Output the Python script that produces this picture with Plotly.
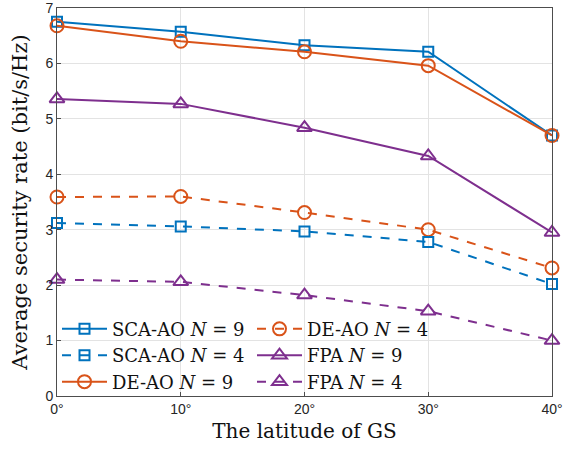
import plotly.graph_objects as go

lat = [0, 10, 20, 30, 40]
lat_labels = ["0°", "10°", "20°", "30°", "40°"]
sca9 = [6.75, 6.57, 6.33, 6.21, 4.70]
de9 = [6.68, 6.40, 6.21, 5.96, 4.70]
fpa9 = [5.36, 5.27, 4.84, 4.33, 2.95]
de4 = [3.59, 3.60, 3.31, 3.00, 2.31]
sca4 = [3.12, 3.06, 2.97, 2.78, 2.02]
fpa4 = [2.10, 2.06, 1.82, 1.53, 1.00]
y_ticks = [0, 1, 2, 3, 4, 5, 6, 7]

BLUE, ORANGE, PURPLE = "#0072BD", "#D95319", "#7E2F8E"
SERIF = "DejaVu Serif, Liberation Serif, serif"

series = [
    ("SCA-AO <i>N</i> = 9", sca9, BLUE, "square-open", "solid"),
    ("DE-AO <i>N</i> = 4", de4, ORANGE, "circle-open", "dash"),
    ("SCA-AO <i>N</i> = 4", sca4, BLUE, "square-open", "dash"),
    ("FPA <i>N</i> = 9", fpa9, PURPLE, "triangle-up-open", "solid"),
    ("DE-AO <i>N</i> = 9", de9, ORANGE, "circle-open", "solid"),
    ("FPA <i>N</i> = 4", fpa4, PURPLE, "triangle-up-open", "dash"),
]

fig = go.Figure()
for name, ys, col, sym, dash in series:
    size = 10 if "square" in sym else 13
    fig.add_trace(go.Scatter(
        x=lat, y=ys, name=name, mode="lines+markers", cliponaxis=False,
        line=dict(color=col, width=2, dash=dash),
        marker=dict(symbol=sym, size=size, color=col, line=dict(width=2, color=col)),
    ))

axis_common = dict(
    showgrid=True, gridcolor="#e3e3e3", gridwidth=1,
    showline=True, linecolor="#4d4d4d", linewidth=1, mirror=True,
    ticks="inside", ticklen=4, tickcolor="#4d4d4d",
    tickfont=dict(family="Liberation Sans, Arial, sans-serif", size=14, color="#262626"),
    zeroline=False, automargin=False, ticklabeloverflow="allow",
)

fig.update_layout(
    width=563, height=450,
    margin=dict(l=57, r=11, t=8, b=54),
    plot_bgcolor="white", paper_bgcolor="white",
    showlegend=True,
    legend=dict(
        orientation="h", x=0, y=-0.012, xanchor="left", yanchor="bottom",
        entrywidth=135, entrywidthmode="pixels",
        font=dict(family=SERIF, size=18, color="#111"),
        bgcolor="rgba(0,0,0,0)", borderwidth=0,
        itemwidth=45, tracegroupgap=0,
    ),
    xaxis=dict(
        range=[0, 40], tickvals=lat, ticktext=lat_labels,
        title=dict(text="The latitude of GS", font=dict(family=SERIF, size=20, color="#111"), standoff=8),
        **axis_common,
    ),
    yaxis=dict(
        range=[0, 7], tickvals=y_ticks, ticktext=[str(v) for v in y_ticks],
        title=dict(text="Average security rate (bit/s/Hz)", font=dict(family=SERIF, size=21, color="#111"), standoff=12),
        **axis_common,
    ),
)

fig.write_html("out.html")
